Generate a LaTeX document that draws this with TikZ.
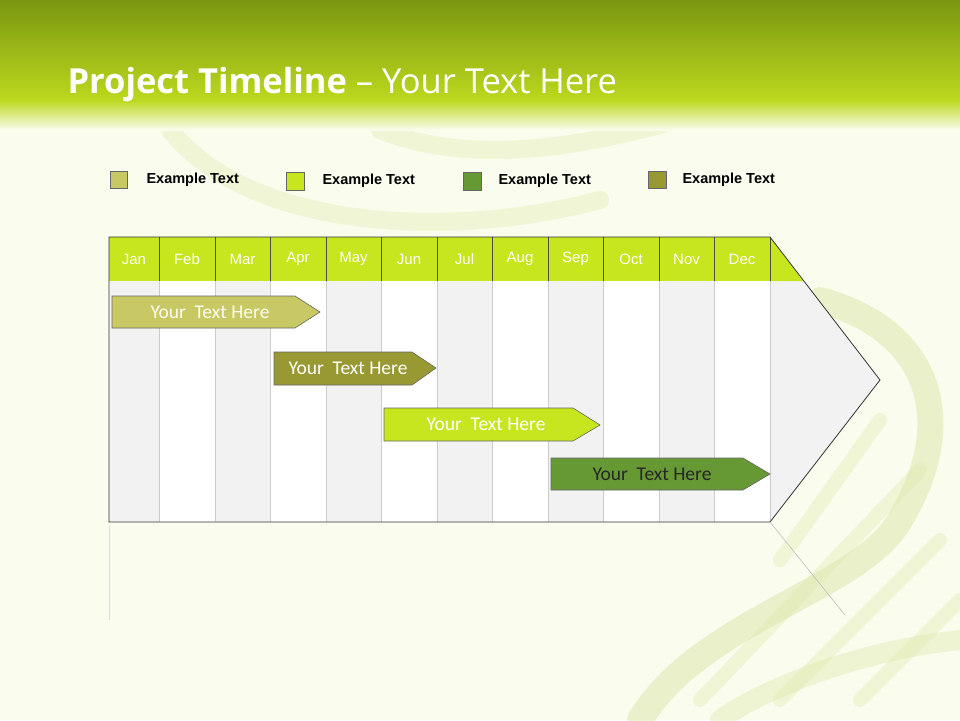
\documentclass[tikz,border=0pt]{standalone}
\usepackage{fontspec}
\setmainfont{Liberation Sans}
\newfontfamily\titlefont{Open Sans}
\newfontfamily\barfont{Carlito}
\begin{document}
\begin{tikzpicture}[x=1pt,y=-1pt,
  bar/.style={draw=black!60,line width=0.6pt},
  bartext/.style={font=\barfont\fontsize{19.5}{22}\selectfont,anchor=center},
  leg/.style={draw=black!60,line width=0.5pt},
  legtext/.style={font=\bfseries\fontsize{14.5}{16}\selectfont,anchor=west},
  month/.style={font=\fontsize{15}{17}\selectfont,text=white!97!yellow,anchor=center}]
\definecolor{bg}{HTML}{FAFCEE}
\definecolor{hdtop}{HTML}{7A9610}
\definecolor{hdmid}{HTML}{BCD81E}
\definecolor{lime}{HTML}{C8E61E}
\definecolor{cA}{HTML}{C8C864}
\definecolor{cB}{HTML}{999933}
\definecolor{cC}{HTML}{C8E620}
\definecolor{cD}{HTML}{669933}
\definecolor{dna}{HTML}{DCE8A8}
\useasboundingbox (0,0) rectangle (960,720);
\fill[bg] (0,0) rectangle (960,720);
\begin{scope}[line cap=round]
\draw[dna,line width=26pt,opacity=0.5] (820,300) .. controls (930,330) and (960,420) .. (900,520) .. controls (860,590) and (700,620) .. (640,720);
\draw[dna,line width=20pt,opacity=0.4] (960,640) .. controls (860,650) and (760,690) .. (720,720);
\draw[dna,line width=18pt,opacity=0.35] (170,130) .. controls (250,230) and (450,240) .. (600,200);
\draw[dna,line width=18pt,opacity=0.35] (380,130) .. controls (480,170) and (600,140) .. (660,125);
\foreach \a/\b in {{(880,420)}/{(780,560)},{(920,470)}/{(700,700)},{(940,540)}/{(780,700)},{(960,600)}/{(860,700)}}
  \draw[dna,line width=14pt,opacity=0.35] \a -- \b;
\end{scope}
\shade[top color=hdtop,bottom color=hdmid] (0,0) rectangle (960,100);
\shade[top color=hdmid,bottom color=bg] (0,100) rectangle (960,130);
\node[anchor=base west,text=white,font=\titlefont\fontsize{34.5}{38}\selectfont] (title) at (64,93) {\textbf{Project Timeline} – Your Text Here};
\draw[leg,fill=cA] (110,171) rectangle (127,188);
\node[legtext] (l1) at (143,180) {Example Text};
\draw[leg,fill=cC] (286,172) rectangle (304,190);
\node[legtext] (l2) at (319,181) {Example Text};
\draw[leg,fill=cD] (463,172) rectangle (481,190);
\node[legtext] (l3) at (495,181) {Example Text};
\draw[leg,fill=cB] (648,171) rectangle (666,188);
\node[legtext] (l4) at (679,180) {Example Text};
\fill[white] (109,281) rectangle (770,522);
\fill[black!5] (770,281) -- (803,281) -- (880,380) -- (770,522) -- cycle;
\foreach \l/\r in {109/159,215/270,326/381,437/492,548/603,659/714}
  \fill[black!5] (\l,281) rectangle (\r,522);
\foreach \x in {159,215,270,326,381,437,492,548,603,659,714,770}
  \draw[black!20,line width=0.8pt] (\x,281) -- (\x,522);
\fill[lime] (109,237) rectangle (770,281);
\fill[lime] (770,237) -- (803,281) -- (770,281) -- cycle;
\foreach \x in {159,215,270,326,381,437,492,548,603,659,714,770}
  \draw[black!70,line width=0.7pt] (\x,237) -- (\x,281);
\foreach \m/\l/\r in {Jan/109/159,Feb/159/215,Mar/215/270,Apr/270/326,May/326/381,Jun/381/437,Jul/437/492,Aug/492/548,Sep/548/603,Oct/603/659,Nov/659/714,Dec/714/770}
  \node[month] (m\m) at ({(\l+\r)/2},259) {\m};
\draw[black!80,line width=0.8pt] (109,522) -- (109,237) -- (770,237) -- (880,380) -- (770,522) -- cycle;
\draw[black!15,line width=1pt] (109,526) -- (109,620);
\draw[black!25,line width=0.6pt] (770,522) -- (845,615);
\draw[bar,fill=cA] (112,296) -- (295,296) -- (320,312) -- (295,328) -- (112,328) -- cycle;
\node[bartext,text=white!95!yellow] (b1) at (210,312) {Your\ \ Text Here};
\draw[bar,fill=cB] (274,352) -- (412,352) -- (436,368) -- (412,385) -- (274,385) -- cycle;
\node[bartext,text=white] (b2) at (348,368) {Your\ \ Text Here};
\draw[bar,fill=cC] (384,408) -- (573,408) -- (600,425) -- (573,441) -- (384,441) -- cycle;
\node[bartext,text=white] (b3) at (486,424) {Your\ \ Text Here};
\draw[bar,fill=cD] (551,458) -- (743,458) -- (770,474) -- (743,490) -- (551,490) -- cycle;
\node[bartext,text=black!85] (b4) at (652,474) {Your\ \ Text Here};
\end{tikzpicture}
\end{document}
